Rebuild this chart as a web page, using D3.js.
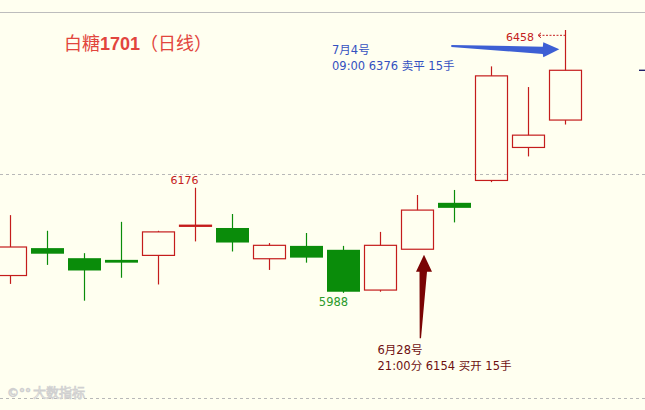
<!DOCTYPE html>
<html><head><meta charset="utf-8">
<script src="https://cdn.jsdelivr.net/npm/d3@7"></script>
<style>
html,body{margin:0;padding:0;background:#fffff0;}
svg{display:block;}
</style></head>
<body>
<svg id="c" width="645" height="410"></svg>
<script>
// ---- data ----
const dates = ["6/13","6/14","6/15","6/16","6/17","6/20","6/21","6/22","6/23","6/24","6/27","6/28","6/29","6/30","7/1","7/4"];
const open  = [6019,6068,6050,6047,6055,6107,6104,6049,6072,6065,5993,6066,6149,6189,6248,6297];
const high  = [6127,6099,6059,6115,6099,6176,6129,6077,6095,6072,6097,6163,6172,6393,6356,6458];
const low   = [6004,6038,5974,6015,6003,6080,6062,6029,6042,5988,5990,6066,6114,6186,6232,6289];
const close = [6070,6058,6028,6042,6097,6109,6078,6073,6051,5990,6073,6136,6140,6376,6270,6386];
const gridPrices = [5800, 6200];
const titleParts = ["白糖", "1701", "（日线）"];
const highLabels = [5, 15];   // candles whose high is labelled
const lowLabels = [9];        // candles whose low is labelled
const buyNote = {idx: 11, lines: ["6月28号", "21:00分 6154 买开 15手"]};
const sellNote = {idx: 15, lines: ["7月4号", "09:00 6376 卖平 15手"]};
const watermark = "大数指标";

const W = 645, H = 410;
const svg = d3.select("#c");
svg.append("rect").attr("width", W).attr("height", H).attr("fill", "#fffff0");

const x = d3.scalePoint().domain(dates).range([9.5, 564.5]);
const y = d3.scaleLinear().domain([5800, 6200]).range([398, 174.3]);
const RED = "#c41c1c", GREEN = "#0a8c0a";
const bw = 32;

// top border
svg.append("line").attr("x1", 0).attr("x2", W).attr("y1", 12.5).attr("y2", 12.5)
  .attr("stroke", "#bdbdbd").attr("stroke-width", 1);
// grid
svg.selectAll("line.grid").data(gridPrices).enter().append("line")
  .attr("class", "grid")
  .attr("x1", 0).attr("x2", W)
  .attr("y1", d => Math.round(y(d)) + 0.5).attr("y2", d => Math.round(y(d)) + 0.5)
  .attr("stroke", "#b8b8b8").attr("stroke-dasharray", "3,3");

// watermark
const wm = svg.append("g");
wm.append("text").attr("x", 7).attr("y", 397).text("©°°")
  .attr("font-family", "DejaVu Sans").attr("font-size", 12)
  .attr("fill", "#fdfdf4").attr("stroke", "#d0d0d0").attr("stroke-width", 0.8);
wm.append("text").attr("x", 33).attr("y", 397).text(watermark)
  .attr("font-family", "Noto Sans CJK SC").attr("font-size", 13)
  .attr("fill", "#fdfdf4").attr("stroke", "#d0d0d0").attr("stroke-width", 0.8);

// candles
const idx = d3.range(dates.length);
const g = svg.append("g");
idx.forEach(i => {
  const cx = Math.round(x(dates[i])) + 0.5;
  const up = close[i] >= open[i];
  const yTop = y(Math.max(open[i], close[i]));
  const yBot = y(Math.min(open[i], close[i]));
  if (up) {
    g.append("line").attr("x1", cx).attr("x2", cx).attr("y1", y(high[i])).attr("y2", yTop)
      .attr("stroke", RED).attr("stroke-width", 1.2);
    g.append("line").attr("x1", cx).attr("x2", cx).attr("y1", yBot).attr("y2", y(low[i]))
      .attr("stroke", RED).attr("stroke-width", 1.2);
    const hgt = Math.max(yBot - yTop, 1);
    g.append("rect").attr("x", cx - bw / 2).attr("y", yTop).attr("width", bw).attr("height", hgt)
      .attr("fill", hgt < 3 ? RED : "none").attr("stroke", RED).attr("stroke-width", 1.2);
  } else {
    g.append("line").attr("x1", cx).attr("x2", cx).attr("y1", y(high[i])).attr("y2", y(low[i]))
      .attr("stroke", GREEN).attr("stroke-width", 1.2);
    g.append("rect").attr("x", cx - bw / 2 - 0.5).attr("y", yTop).attr("width", bw + 1)
      .attr("height", Math.max(yBot - yTop, 2)).attr("fill", GREEN);
  }
});

// high/low labels
const numFont = "DejaVu Sans";
highLabels.filter(i => i !== 15).forEach(i => {
  svg.append("text").attr("x", x(dates[i]) - 10).attr("y", y(high[i]) - 4)
    .attr("text-anchor", "middle").attr("font-family", numFont).attr("font-size", 11)
    .attr("fill", "#c42020").text(high[i]);
});
lowLabels.forEach(i => {
  svg.append("text").attr("x", x(dates[i]) - 9).attr("y", y(low[i]) + 13.5)
    .attr("text-anchor", "middle").attr("font-family", numFont).attr("font-size", 11.5)
    .attr("fill", "#2a9a2a").text(low[i]);
});
// max label with dashed arrow
{
  const i = 15;
  const cx = x(dates[i]) + 0.5, hy = y(high[i]);
  const ay = hy + 5.3;
  svg.append("line").attr("x1", cx - 26).attr("x2", cx).attr("y1", ay).attr("y2", ay)
    .attr("stroke", "#c42020").attr("stroke-dasharray", "2,1.5").attr("stroke-width", 1);
  svg.append("path").attr("d", `M${cx - 24},${ay - 2.5} L${cx - 27},${ay} L${cx - 24},${ay + 2.5}`)
    .attr("fill", "none").attr("stroke", "#c42020").attr("stroke-width", 1);
  svg.append("text").attr("x", cx - 31).attr("y", hy + 11.3).attr("text-anchor", "end")
    .attr("font-family", numFont).attr("font-size", 11).attr("fill", "#c42020").text(high[i]);
}

// current price marker at right edge
svg.append("line").attr("x1", 639).attr("x2", W)
  .attr("y1", y(close[close.length - 1])).attr("y2", y(close[close.length - 1]))
  .attr("stroke", "#101060").attr("stroke-width", 1.3);

// title
const tt = svg.append("text").attr("x", 64).attr("y", 50)
  .attr("font-family", "Noto Sans CJK SC, Liberation Sans").attr("font-size", 18).attr("fill", "#e2453d");
tt.append("tspan").text(titleParts[0]);
tt.append("tspan").attr("font-family", "Liberation Sans").attr("font-weight", "bold").text(titleParts[1]);
tt.append("tspan").text(titleParts[2]);

// sell annotation (blue)
{
  const cx = x(dates[sellNote.idx]);
  const tx = cx - 5.2, ty = y(high[sellNote.idx]) + 19.3;
  const pts = [[tx, ty], [tx - 16, ty - 7], [tx - 16.5, ty - 2.6], [tx - 108, ty - 4.3],
               [tx - 108, ty - 2.3], [tx - 16.5, ty + 4.7], [tx - 16, ty + 8]];
  svg.append("path").attr("d", d3.line()(pts) + "Z").attr("fill", "#3d5fd4");
  svg.selectAll("text.sell").data(sellNote.lines).enter().append("text").attr("class", "sell")
    .attr("x", 332).attr("y", (d, k) => 54 + k * 16)
    .attr("font-family", "DejaVu Sans, Noto Sans CJK SC").attr("font-size", 11.5)
    .attr("fill", "#3451c0").text(d => d);
}

// buy annotation (dark red)
{
  const cx = x(dates[buyNote.idx]);
  const tx = cx + 7.5, ty = y(low[buyNote.idx]) + 5.5;
  const pts = [[tx, ty], [tx + 8, ty + 17], [tx + 3, ty + 17], [tx - 3, ty + 83.5],
               [tx - 4.3, ty + 83.5], [tx - 4.5, ty + 17], [tx - 8, ty + 17]];
  svg.append("path").attr("d", d3.line()(pts) + "Z").attr("fill", "#7a0404");
  svg.selectAll("text.buy").data(buyNote.lines).enter().append("text").attr("class", "buy")
    .attr("x", 377.5).attr("y", (d, k) => 354 + k * 16)
    .attr("font-family", "DejaVu Sans, Noto Sans CJK SC").attr("font-size", 11.5)
    .attr("fill", "#6e1010").text(d => d);
}
</script>
</body></html>
